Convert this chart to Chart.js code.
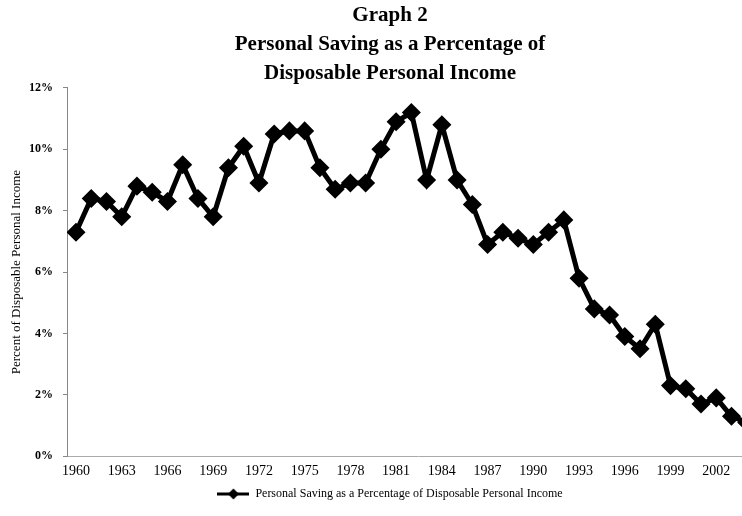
<!DOCTYPE html>
<html>
<head>
<meta charset="utf-8">
<title>Personal Saving as a Percentage of Disposable Personal Income</title>
<script src="https://cdn.jsdelivr.net/npm/chart.js@4/dist/chart.umd.min.js"></script>
<style>
  html, body { margin: 0; padding: 0; background: #fff; overflow: hidden; }
  #wrap { width: 742px; height: 516px; overflow: hidden; }
  canvas { display: block; }
</style>
</head>
<body>
<div id="wrap">
  <canvas id="savingChart" width="780" height="516"></canvas>
</div>
<script>
// years and saving rate (% of disposable personal income)
const years = [
    1960, 1961, 1962, 1963, 1964, 1965, 1966, 1967, 1968, 1969,
    1970, 1971, 1972, 1973, 1974, 1975, 1976, 1977, 1978, 1979,
    1980, 1981, 1982, 1983, 1984, 1985, 1986, 1987, 1988, 1989,
    1990, 1991, 1992, 1993, 1994, 1995, 1996, 1997, 1998, 1999,
    2000, 2001, 2002, 2003, 2004
];
const savingRate = [
    7.3, 8.4, 8.3, 7.8, 8.8, 8.6, 8.3, 9.5, 8.4, 7.8,
    9.4, 10.1, 8.9, 10.5, 10.6, 10.6, 9.4, 8.7, 8.9, 8.9,
    10.0, 10.9, 11.2, 9.0, 10.8, 9.0, 8.2, 6.9, 7.3, 7.1,
    6.9, 7.3, 7.7, 5.8, 4.8, 4.6, 3.9, 3.5, 4.3, 2.3,
    2.2, 1.7, 1.9, 1.3, 1.1
];
const tickYears = [1960, 1963, 1966, 1969, 1972, 1975, 1978, 1981, 1984, 1987, 1990, 1993, 1996, 1999, 2002];
const percentTicks = [0, 2, 4, 6, 8, 10, 12];

const titleLines = ['Graph 2', 'Personal Saving as a Percentage of', 'Disposable Personal Income'];
const seriesName = 'Personal Saving as a Percentage of Disposable Personal Income';
const yTitle = 'Percent of Disposable Personal Income';

// legend symbol: thick line with a diamond on it
function legendSymbol() {
    const c = document.createElement('canvas');
    c.width = 32;
    c.height = 12;
    const g = c.getContext('2d');
    g.fillStyle = '#000';
    g.fillRect(0, 4.5, 32, 3);
    g.beginPath();
    g.moveTo(16, 0.5);
    g.lineTo(21.5, 6);
    g.lineTo(16, 11.5);
    g.lineTo(10.5, 6);
    g.closePath();
    g.fill();
    return c;
}

const serif = '"Liberation Serif", "Times New Roman", serif';

new Chart(document.getElementById('savingChart'), {
    type: 'line',
    data: {
        datasets: [{
            label: seriesName,
            data: years.map((y, i) => ({ x: y, y: savingRate[i] })),
            borderColor: '#000',
            backgroundColor: '#000',
            borderWidth: 5,
            pointStyle: 'rectRot',
            pointRadius: 6,
            pointBackgroundColor: '#000',
            pointBorderColor: '#000',
            tension: 0
        }]
    },
    options: {
        responsive: false,
        animation: false,
        devicePixelRatio: 1,
        events: [],
        layout: { padding: { top: 1, left: 0, right: 0, bottom: 6 } },
        plugins: {
            title: {
                display: true,
                text: titleLines,
                color: '#000',
                font: { family: serif, size: 21, weight: 'bold', lineHeight: 1.38 },
                padding: { top: 0, bottom: 0 }
            },
            legend: {
                position: 'bottom',
                labels: {
                    color: '#000',
                    font: { family: serif, size: 12 },
                    usePointStyle: true,
                    pointStyle: legendSymbol(),
                    pointStyleWidth: 32,
                    padding: 1
                }
            },
            tooltip: { enabled: false }
        },
        scales: {
            x: {
                type: 'linear',
                min: 1959.41,
                max: 2005.46,
                afterBuildTicks: (scale) => {
                    scale.ticks = tickYears.map(v => ({ value: v }));
                },
                ticks: {
                    color: '#000',
                    font: { family: serif, size: 14 },
                    padding: 7,
                    maxRotation: 0,
                    autoSkip: false,
                    callback: (v) => String(v)
                },
                grid: { display: true, drawOnChartArea: false, drawTicks: false },
                border: { display: true, color: '#aaa', width: 1, dash: [2, 3] }
            },
            y: {
                min: 0,
                max: 12,
                afterBuildTicks: (scale) => {
                    scale.ticks = percentTicks.map(v => ({ value: v }));
                },
                afterFit: (scale) => { scale.width = 67; },
                ticks: {
                    color: '#000',
                    font: { family: serif, size: 12, weight: 'bold' },
                    padding: 10,
                    callback: (v) => v + '%'
                },
                grid: { display: true, drawOnChartArea: false, drawTicks: true, tickLength: 4, color: '#888' },
                border: { display: true, color: '#888', width: 1, dash: [2, 2] },
                title: {
                    display: true,
                    text: yTitle,
                    color: '#000',
                    font: { family: serif, size: 13 },
                    padding: { top: 9, bottom: 0 }
                }
            }
        }
    }
});
</script>
</body>
</html>
